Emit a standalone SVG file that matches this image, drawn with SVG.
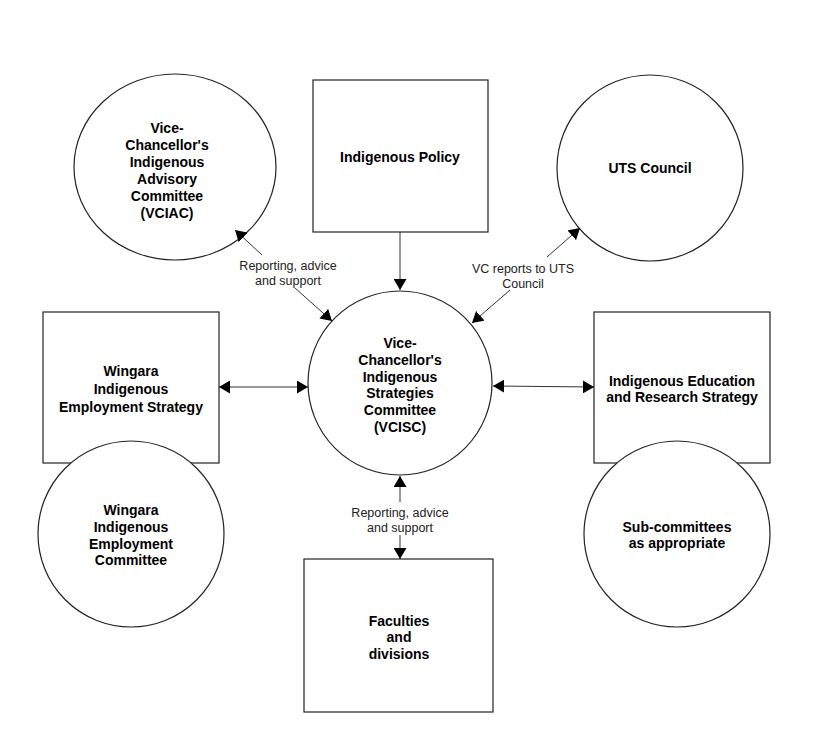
<svg xmlns="http://www.w3.org/2000/svg" width="825" height="735" viewBox="0 0 825 735">
  <defs>
    <marker id="ah" viewBox="0 0 11 13" refX="11" refY="6.5" markerWidth="11" markerHeight="13" markerUnits="userSpaceOnUse" orient="auto-start-reverse">
      <path d="M0,0 L11,6.5 L0,13 z" fill="#000"/>
    </marker>
    <style>
      .shape { fill: #fff; stroke: #222; stroke-width: 1.2; }
      .t { font-family: "Liberation Sans", Arial, sans-serif; font-size: 14px; font-weight: bold; fill: #000; text-anchor: middle; }
      .lbl { font-family: "Liberation Sans", Arial, sans-serif; font-size: 12.5px; fill: #222; text-anchor: middle; }
      .c { stroke: #333; stroke-width: 1; fill: none; marker-end: url(#ah); }
      .cc { stroke: #333; stroke-width: 1; fill: none; marker-end: url(#ah); marker-start: url(#ah); }
    </style>
  </defs>
  <rect width="825" height="735" fill="#fff"/>

  <g id="vciac">
    <ellipse class="shape" cx="175" cy="167" rx="101" ry="93"/>
    <text class="t" x="167" y="133">Vice-</text>
    <text class="t" x="167" y="150">Chancellor's</text>
    <text class="t" x="167" y="167">Indigenous</text>
    <text class="t" x="167" y="184">Advisory</text>
    <text class="t" x="167" y="201">Committee</text>
    <text class="t" x="167" y="218">(VCIAC)</text>
  </g>

  <g id="policy">
    <rect class="shape" x="313" y="80" width="175" height="152"/>
    <text class="t" x="400" y="162">Indigenous Policy</text>
  </g>

  <g id="uts">
    <circle class="shape" cx="650" cy="168" r="93"/>
    <text class="t" x="650" y="173">UTS Council</text>
  </g>

  <g id="wingara-strategy">
    <rect class="shape" x="43" y="312" width="176" height="151"/>
    <text class="t" x="131" y="376">Wingara</text>
    <text class="t" x="131" y="394">Indigenous</text>
    <text class="t" x="131" y="412">Employment Strategy</text>
  </g>

  <g id="wingara-committee">
    <circle class="shape" cx="131" cy="534" r="93"/>
    <text class="t" x="131" y="515">Wingara</text>
    <text class="t" x="131" y="532">Indigenous</text>
    <text class="t" x="131" y="549">Employment</text>
    <text class="t" x="131" y="565">Committee</text>
  </g>

  <g id="vcisc">
    <circle class="shape" cx="400" cy="383" r="92"/>
    <text class="t" x="400" y="348">Vice-</text>
    <text class="t" x="400" y="365">Chancellor's</text>
    <text class="t" x="400" y="382">Indigenous</text>
    <text class="t" x="400" y="398">Strategies</text>
    <text class="t" x="400" y="415">Committee</text>
    <text class="t" x="400" y="432">(VCISC)</text>
  </g>

  <g id="education-strategy">
    <rect class="shape" x="594" y="312" width="176" height="151"/>
    <text class="t" x="682" y="386">Indigenous Education</text>
    <text class="t" x="682" y="402">and Research Strategy</text>
  </g>

  <g id="subcommittees">
    <circle class="shape" cx="677" cy="534" r="93"/>
    <text class="t" x="677" y="532">Sub-committees</text>
    <text class="t" x="677" y="548">as appropriate</text>
  </g>

  <g id="faculties">
    <rect class="shape" x="304" y="559" width="189" height="153"/>
    <text class="t" x="399" y="626">Faculties</text>
    <text class="t" x="399" y="642">and</text>
    <text class="t" x="399" y="659">divisions</text>
  </g>

  <g id="connectors">
    <line class="c" x1="400" y1="232" x2="400" y2="290"/>
    <line class="c" x1="262" y1="255" x2="235" y2="230"/>
    <line class="c" x1="295" y1="288" x2="332" y2="321"/>
    <line class="c" x1="547" y1="257" x2="580" y2="228"/>
    <line class="c" x1="510" y1="290" x2="472" y2="323"/>
    <line class="cc" x1="219" y1="387" x2="308" y2="387"/>
    <line class="cc" x1="493" y1="386" x2="594" y2="387"/>
    <line class="c" x1="400" y1="502" x2="400" y2="476"/>
    <line class="c" x1="400" y1="535" x2="400" y2="559"/>
    <text class="lbl" x="288" y="269.5">Reporting, advice</text>
    <text class="lbl" x="288" y="284.5">and support</text>
    <text class="lbl" x="523" y="272.5">VC reports to UTS</text>
    <text class="lbl" x="523" y="287.5">Council</text>
    <text class="lbl" x="400" y="516.5">Reporting, advice</text>
    <text class="lbl" x="400" y="531.5">and support</text>
  </g>
</svg>
